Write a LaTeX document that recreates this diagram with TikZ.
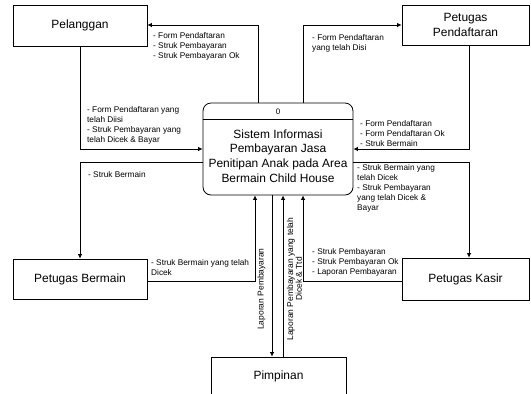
\documentclass[tikz,border=0pt]{standalone}
\usepackage{fontspec}
\setmainfont{Liberation Sans}
\usetikzlibrary{arrows.meta}
\begin{document}
\begin{tikzpicture}[x=1bp,y=-1bp,
  entity/.style={draw, line width=0.8bp, inner sep=0pt,
    font=\fontsize{12}{14.5}\selectfont, align=center},
  flow/.style={line width=0.8bp, -{Latex[length=4.5bp,width=4.5bp]}},
  lbl/.style={inner sep=0pt, anchor=north west, align=left,
    font=\fontsize{8.3}{10.2}\selectfont},
  vlbl/.style={inner sep=0pt, rotate=90, align=center,
    font=\fontsize{8.5}{8.8}\selectfont}]
\useasboundingbox (0,0) rectangle (531,393);

% external entities
\node[entity, minimum width=134bp, minimum height=41bp] (pel) at (80,25.5) {Pelanggan};
\node[entity, minimum width=127bp, minimum height=40bp] (pp) at (465.5,25) {Petugas\\Pendaftaran};
\node[entity, minimum width=134bp, minimum height=40bp] (pb) at (80,279) {Petugas Bermain};
\node[entity, minimum width=127bp, minimum height=42bp] (pk) at (465.5,279) {Petugas Kasir};
\node[entity, minimum width=135bp, minimum height=38bp] (pim) at (278.5,376) {Pimpinan};

% process
\node[draw, line width=0.8bp, rounded corners=8bp, minimum width=150bp,
  minimum height=92bp, inner sep=0pt] (sys) at (278,149) {};
\draw[line width=0.8bp] ([yshift=-17bp]sys.north west) -- ([yshift=-17bp]sys.north east);
\node[inner sep=0pt, font=\fontsize{8}{9}\selectfont] (num) at (278,111.5) {0};
\node[inner sep=0pt, align=center, font=\fontsize{12}{14.7}\selectfont] (systxt) at (278,156)
  {Sistem Informasi\\Pembayaran Jasa\\Penitipan Anak pada Area\\Bermain Child House};

% bend points
\coordinate (c1) at (258,25);
\coordinate (c2) at (80,149);
\coordinate (c3) at (303,25);
\coordinate (c4) at (469,149);
\coordinate (c5) at (80,162);
\coordinate (c6) at (255,281);
\coordinate (c7) at (469,162);
\coordinate (c8) at (303,281);
\coordinate (c9) at (272,250);
\coordinate (c10) at (283,250);

% data flows
\draw[flow] (sys.north -| c1) -- (c1) -- (pel.east |- c1);
\draw[flow] (pel.south -| c2) -- (c2) -- (sys.west |- c2);
\draw[flow] (sys.north -| c3) -- (c3) -- (pp.west |- c3);
\draw[flow] (pp.south -| c4) -- (c4) -- (sys.east |- c4);
\draw[flow] (sys.west |- c5) -- (c5) -- (pb.north -| c5);
\draw[flow] (pb.east |- c6) -- (c6) -- (sys.south -| c6);
\draw[flow] (sys.east |- c7) -- (c7) -- (pk.north -| c7);
\draw[flow] (pk.west |- c8) -- (c8) -- (sys.south -| c8);
\draw[flow] (sys.south -| c9) -- (pim.north -| c9);
\draw[flow] (pim.north -| c10) -- (sys.south -| c10);

% flow labels
\node[lbl] (l1) at (153,32) {- Form Pendaftaran\\- Struk Pembayaran\\- Struk Pembayaran Ok};
\node[lbl] (l2) at (87,106) {- Form Pendaftaran yang\\telah Diisi\\- Struk Pembayaran yang\\telah Dicek \& Bayar};
\node[lbl] (l3) at (312,34) {- Form Pendaftaran\\yang telah Disi};
\node[lbl] (l4) at (360,120) {- Form Pendaftaran\\- Form Pendaftaran Ok\\- Struk Bermain};
\node[lbl] (l5) at (88,171) {- Struk Bermain};
\node[lbl] (l6) at (151,259) {- Struk Bermain yang telah\\Dicek};
\node[lbl] (l7) at (357,164) {- Struk Bermain yang\\telah Dicek\\- Struk Pembayaran\\yang telah Dicek \&\\Bayar};
\node[lbl] (l8) at (312,248) {- Struk Pembayaran\\- Struk Pembayaran Ok\\- Laporan Pembayaran};
\node[vlbl] (l9) at (261.5,289) {Laporan Pembayaran};
\node[vlbl] (l10) at (294.5,279) {Laporan Pembayaran yang telah\\Dicek \& Ttd};
\end{tikzpicture}
\end{document}
